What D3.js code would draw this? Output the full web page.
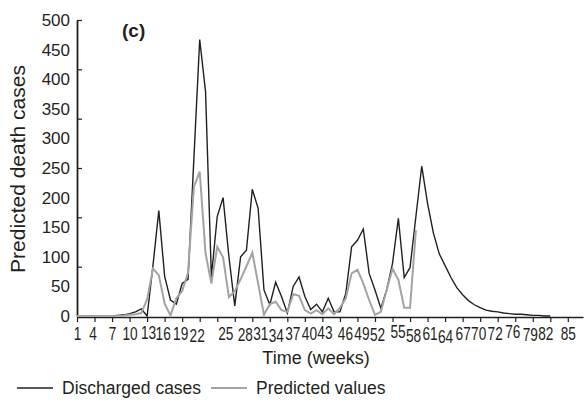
<!DOCTYPE html>
<html>
<head>
<meta charset="utf-8">
<script src="https://cdn.jsdelivr.net/npm/d3@7"></script>
<style>
  html, body { margin: 0; padding: 0; background: #ffffff; }
  svg { display: block; font-family: "Liberation Sans", Arial, Helvetica, sans-serif; }
</style>
</head>
<body>
<svg id="chart" width="585" height="404"></svg>
<script>
// Weekly discharged cases (weeks 1..82)
const dischargedWeeks = d3.range(1, 83);
const discharged = [
  0, 0, 0, 0, 0, 0, 0, 1, 2, 4,
  7, 12, 0, 85, 178, 67, 27, 20, 55, 62,
  265, 467, 379, 66, 168, 200, 100, 17, 100, 111,
  214, 182, 44, 19, 57, 33, 5, 50, 66, 33,
  11, 20, 7, 30, 7, 7, 38, 117, 128, 147,
  72, 44, 13, 44, 89, 165, 65, 82, 168, 253,
  190, 140, 105, 85, 65, 48, 36, 26, 19, 14,
  10, 8, 7, 5, 4, 3, 3, 2, 1, 1,
  0, 0
];

// Model predictions (weeks 1..59)
const predictedWeeks = d3.range(1, 60);
const predicted = [
  0, 0, 0, 0, 0, 0, 0, 0.5, 1, 2,
  3, 5, 28, 80, 69, 21, 1, 30, 42, 73,
  218, 244, 106, 55, 117, 99, 32, 42, 62, 84,
  107, 55, 2, 20, 24, 10, 7, 37, 34, 10,
  4, 10, 3, 13, 3, 14, 30, 72, 78, 55,
  27, 2, 7, 44, 80, 61, 14, 14, 145
];

// Axis ticks and their printed labels
const xTickValues = [1, 4, 7, 10, 13, 16, 19, 22, 25, 28, 31, 34, 37, 40, 43,
                     46, 49, 52, 55, 58, 61, 64, 67, 70, 73, 76, 79, 82, 85];
const xTickLabels = ["1", "4", "7", "10", "13", "16", "19", "22", "25", "28", "31", "34", "37", "40", "43",
                     "46", "49", "52", "55", "58", "61", "64", "67", "70", "72", "76", "79", "82", "85"];
const yLabelValues = [0, 50, 100, 150, 200, 250, 300, 350, 400, 450, 500];
const yMax = 500;
const yMarkCount = 6;

const seriesNames = ["Discharged cases", "Predicted values"];

// Small hand offsets for crowded week labels (dx, dy in px)
const labelNudge = {
  4: [-2, 0], 13: [1, -1], 16: [-2, 0], 19: [-2, 0], 22: [-3, 2],
  25: [8, 0], 28: [10, 1], 31: [8, 0], 34: [6, 2], 37: [5, 0], 40: [4, 0],
  43: [2, -1], 46: [5, 0], 49: [4, 0], 52: [2, 1], 55: [5, -2], 58: [3, 2],
  61: [2, 0], 64: [0, 3], 70: [-2, 0], 73: [-3, 0], 76: [-3, -2], 79: [-3, 1], 82: [-5, 0]
};

const svg = d3.select("#chart");
svg.append("rect").attr("width", 585).attr("height", 404).attr("fill", "#ffffff");

const x = d3.scaleLinear().domain([1, 87.6]).range([77, 583]);
const y = d3.scaleLinear().domain([0, yMax]).range([316, 20]);

const axisColor = "#231f20";

// X axis
const xAxis = svg.append("g")
  .attr("transform", "translate(0,317)")
  .call(d3.axisBottom(x)
    .tickValues(xTickValues)
    .tickFormat((d, i) => xTickLabels[i])
    .tickSizeInner(5)
    .tickSizeOuter(0)
    .tickPadding(5));
xAxis.select(".domain").attr("stroke", axisColor).attr("stroke-width", 1.6);
xAxis.selectAll(".tick line").attr("stroke", axisColor).attr("stroke-width", 1.2);
xAxis.selectAll(".tick text")
  .attr("fill", "#231f20")
  .style("font-size", "18px")
  .attr("transform", d => {
    const n = labelNudge[d] || [0, 0];
    return `translate(${n[0]},${n[1]}) scale(0.76,1)`;
  });

// Y axis: tick marks pointing inward
const yMarks = d3.range(yMarkCount + 1).map(i => yMax * i / yMarkCount);
const yAxis = svg.append("g")
  .attr("transform", "translate(77,0)")
  .call(d3.axisLeft(y)
    .tickValues(yMarks)
    .tickFormat("")
    .tickSizeInner(-5)
    .tickSizeOuter(0));
yAxis.select(".domain").attr("stroke", axisColor).attr("stroke-width", 1.8);
yAxis.selectAll(".tick line").attr("stroke", axisColor).attr("stroke-width", 1.2);

// Y axis value labels
const yLabels = svg.append("g")
  .attr("transform", "translate(77,0)")
  .call(d3.axisLeft(y)
    .tickValues(yLabelValues)
    .tickSize(0)
    .tickPadding(7));
yLabels.select(".domain").remove();
yLabels.selectAll(".tick text")
  .attr("fill", "#231f20")
  .style("font-size", "17px");

// Series lines
const line = d3.line()
  .x(d => x(d[0]))
  .y(d => y(d[1]));

svg.append("path")
  .datum(d3.zip(dischargedWeeks, discharged))
  .attr("fill", "none")
  .attr("stroke", "#231f20")
  .attr("stroke-width", 1.4)
  .attr("stroke-linejoin", "miter")
  .attr("d", line);

svg.append("path")
  .datum(d3.zip(predictedWeeks, predicted))
  .attr("fill", "none")
  .attr("stroke", "#a3a3a3")
  .attr("stroke-width", 2)
  .attr("stroke-linejoin", "miter")
  .attr("d", line);

// Panel tag
svg.append("text")
  .attr("x", 122).attr("y", 37)
  .attr("fill", "#231f20")
  .style("font-size", "19px")
  .style("font-weight", "bold")
  .text("(c)");

// Axis titles
svg.append("text")
  .attr("transform", "translate(25,169) rotate(-90)")
  .attr("text-anchor", "middle")
  .attr("fill", "#231f20")
  .style("font-size", "21px")
  .text("Predicted death cases");

svg.append("text")
  .attr("x", 316).attr("y", 364)
  .attr("text-anchor", "middle")
  .attr("fill", "#231f20")
  .style("font-size", "18px")
  .text("Time (weeks)");

// Legend
const legend = svg.append("g");
const legendItems = [
  { name: seriesNames[0], color: "#231f20", width: 1.4, x0: 17 },
  { name: seriesNames[1], color: "#a3a3a3", width: 2, x0: 211 }
];
legendItems.forEach(item => {
  legend.append("line")
    .attr("x1", item.x0).attr("x2", item.x0 + 36)
    .attr("y1", 388).attr("y2", 388)
    .attr("stroke", item.color)
    .attr("stroke-width", item.width);
  legend.append("text")
    .attr("x", item.x0 + 45).attr("y", 394)
    .attr("fill", "#231f20")
    .style("font-size", "17.5px")
    .text(item.name);
});
</script>
</body>
</html>
